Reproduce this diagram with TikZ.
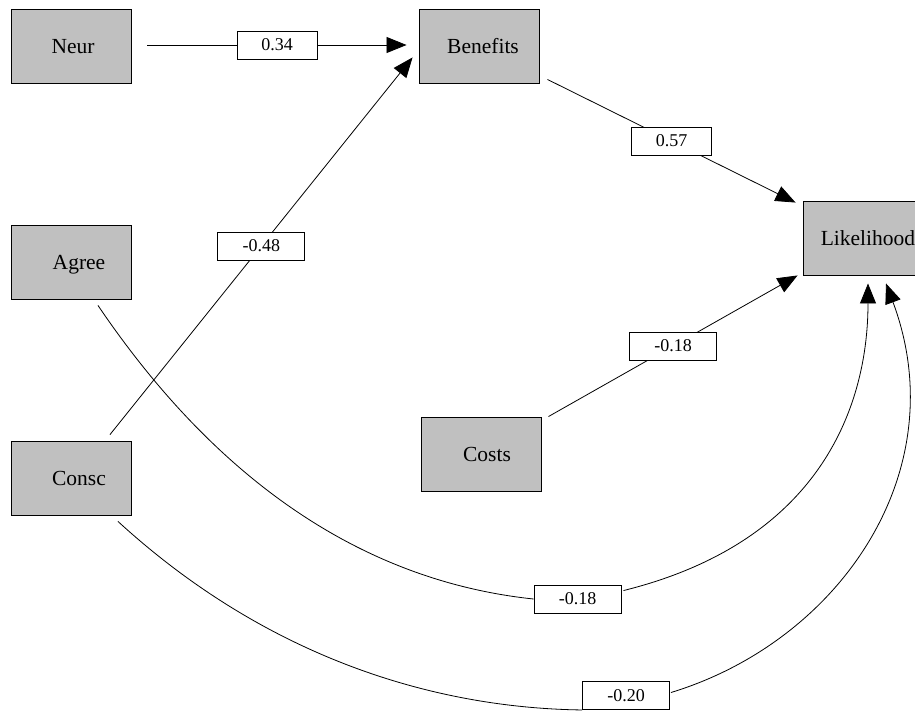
\documentclass[tikz,border=0pt]{standalone}
\usepackage{fontspec}
\setmainfont{Liberation Serif}
\usetikzlibrary{arrows.meta,calc}
\definecolor{boxgray}{RGB}{192,192,192}
\begin{document}
\begin{tikzpicture}[x=1pt,y=-1pt,
  box/.style={draw=black, fill=boxgray, line width=0.9pt, minimum width=120pt, minimum height=74pt, inner sep=0pt},
  boxtext/.style={font=\fontsize{21.5}{24}\selectfont, inner sep=0pt, anchor=base},
  lab/.style={draw=black, fill=white, line width=0.9pt, font=\fontsize{18}{20}\selectfont, inner sep=0pt, minimum width=80pt, minimum height=28pt},
  labn/.style={lab, minimum width=87pt},
  conn/.style={line width=0.8pt, -{Triangle[length=20pt,width=16pt]}},
  plain/.style={line width=0.8pt}
]
\useasboundingbox (0,0) rectangle (915,710);

% boxes
\node[box] (neur) at (71,46) {};
\node[boxtext] (neurt) at (73,53.5) {Neur};
\node[box] (ben) at (479,46) {};
\node[boxtext] (bent) at (483,53.5) {Benefits};
\node[box] (agree) at (71,262) {};
\node[boxtext] (agreet) at (79,269.5) {Agree};
\node[box] (consc) at (71,478) {};
\node[boxtext] (consct) at (79,485.5) {Consc};
\node[box] (costs) at (481,454) {};
\node[boxtext] (costst) at (487,461.5) {Costs};
\node[box] (like) at (863,238) {};
\node[boxtext] (liket) at (868,245.5) {Likelihood};

% straight paths
\draw[conn] ($(neur.east)+(16,-1)$) -- node[lab] (l1) {0.34} ($(ben.west)+(-12,-1)$);
\draw[conn] ($(ben.south east)+(8,-4)$) -- node[lab] (l2) {0.57} ($(like.north west)+(-7,2)$);
\draw[conn] ($(consc.north)+(39,-6)$) -- node[labn] (l3) {-0.48} ($(ben.south west)+(-6,-26)$);
\draw[conn] ($(costs.north east)+(7,0)$) -- node[labn] (l4) {-0.18} ($(like.south west)+(-5,0)$);

% curved paths
\node[labn] (l5) at (577.5,599) {-0.18};
\node[labn] (l6) at (626,695.5) {-0.20};
\draw[plain] ($(agree.south)+(27,6)$) .. controls (210,471) and (354,580) .. (l5.west);
\draw[conn] ($(l5.north east)+(2,6)$) .. controls (823,541) and (868,403) .. ($(like.south)+(5,8)$);
\draw[plain] ($(consc.south)+(47,6)$) .. controls (266,657) and (433,708) .. (l6.south west);
\draw[conn] ($(l6.east)+(1,-3)$) .. controls (840,641) and (956,471) .. ($(like.south)+(23,8)$);
\end{tikzpicture}
\end{document}
